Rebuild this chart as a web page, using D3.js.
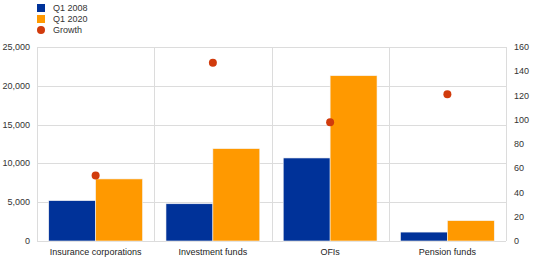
<!DOCTYPE html>
<html>
<head>
<meta charset="utf-8">
<script src="https://cdn.jsdelivr.net/npm/d3@7"></script>
<style>
  body { margin: 0; background: #fff; }
  svg { font-family: "Liberation Sans", Arial, sans-serif; }
</style>
</head>
<body>
<svg width="539" height="261"></svg>
<script>
// Data
const categories = ["Insurance corporations", "Investment funds", "OFIs", "Pension funds"];
const q12008 = [5200, 4800, 10700, 1150];
const q12020 = [8000, 11900, 21300, 2620];
const growth = [54, 147, 98, 121];
const seriesNames = ["Q1 2008", "Q1 2020", "Growth"];
const leftTicks = [0, 5000, 10000, 15000, 20000, 25000];
const rightTicks = [0, 20, 40, 60, 80, 100, 120, 140, 160];

const svg = d3.select("svg");
const margin = {left: 37, right: 33, top: 47, bottom: 20};
const width = +svg.attr("width"), height = +svg.attr("height");
const x0 = margin.left, x1 = width - margin.right;
const y0 = height - margin.bottom, y1 = margin.top;

const blue = "#003299", orange = "#ff9900", red = "#d13b0c", grid = "#dcdcdc";

const x = d3.scaleBand().domain(categories).range([x0, x1]);
const xs = d3.scaleBand().domain([0, 1]).range([0, x.bandwidth()]).paddingOuter(0.25).paddingInner(0);
const yL = d3.scaleLinear().domain([0, 25000]).range([y0, y1]);
const yR = d3.scaleLinear().domain([0, 160]).range([y0, y1]);

// horizontal gridlines
svg.append("g").selectAll("line").data(leftTicks).join("line")
  .attr("x1", x0).attr("x2", x1)
  .attr("y1", d => Math.round(yL(d)) + 0.5).attr("y2", d => Math.round(yL(d)) + 0.5)
  .attr("stroke", grid);

// vertical separators
const seps = categories.map(c => x(c)).concat([x1]);
svg.append("g").selectAll("line").data(seps).join("line")
  .attr("x1", d => Math.round(d) + 0.5).attr("x2", d => Math.round(d) + 0.5)
  .attr("y1", y1).attr("y2", y0)
  .attr("stroke", grid);

// bars
const series = [q12008, q12020];
const colors = [blue, orange];
series.forEach((vals, si) => {
  svg.append("g").selectAll("rect").data(vals).join("rect")
    .attr("x", (d, i) => x(categories[i]) + xs(si))
    .attr("width", xs.bandwidth())
    .attr("y", d => yL(d))
    .attr("height", d => y0 - yL(d))
    .attr("fill", colors[si])
    .attr("stroke", "#f4f4f4").attr("stroke-width", 0.6);
});

// growth dots
svg.append("g").selectAll("circle").data(growth).join("circle")
  .attr("cx", (d, i) => x(categories[i]) + x.bandwidth() / 2)
  .attr("cy", d => yR(d))
  .attr("r", 4)
  .attr("fill", red);

// left axis labels
svg.append("g").selectAll("text").data(leftTicks).join("text")
  .attr("x", 30).attr("y", d => yL(d) + 3)
  .attr("text-anchor", "end")
  .attr("font-size", 9).attr("fill", "#333")
  .text(d => d3.format(",")(d));

// right axis labels
svg.append("g").selectAll("text").data(rightTicks).join("text")
  .attr("x", 514).attr("y", d => yR(d) + 3)
  .attr("font-size", 9).attr("fill", "#333")
  .text(d => d);

// category labels
svg.append("g").selectAll("text").data(categories).join("text")
  .attr("x", d => x(d) + x.bandwidth() / 2).attr("y", 255)
  .attr("text-anchor", "middle")
  .attr("font-size", 9).attr("fill", "#222")
  .text(d => d);

// legend
const leg = svg.append("g");
seriesNames.forEach((name, i) => {
  const ly = 8 + i * 11;
  if (i < 2) {
    leg.append("rect").attr("x", 37).attr("y", ly - 4).attr("width", 8).attr("height", 8).attr("fill", colors[i]);
  } else {
    leg.append("circle").attr("cx", 41).attr("cy", ly).attr("r", 4).attr("fill", red);
  }
  leg.append("text").attr("x", 53).attr("y", ly + 3).attr("font-size", 9).attr("fill", "#333").text(name);
});
</script>
</body>
</html>
